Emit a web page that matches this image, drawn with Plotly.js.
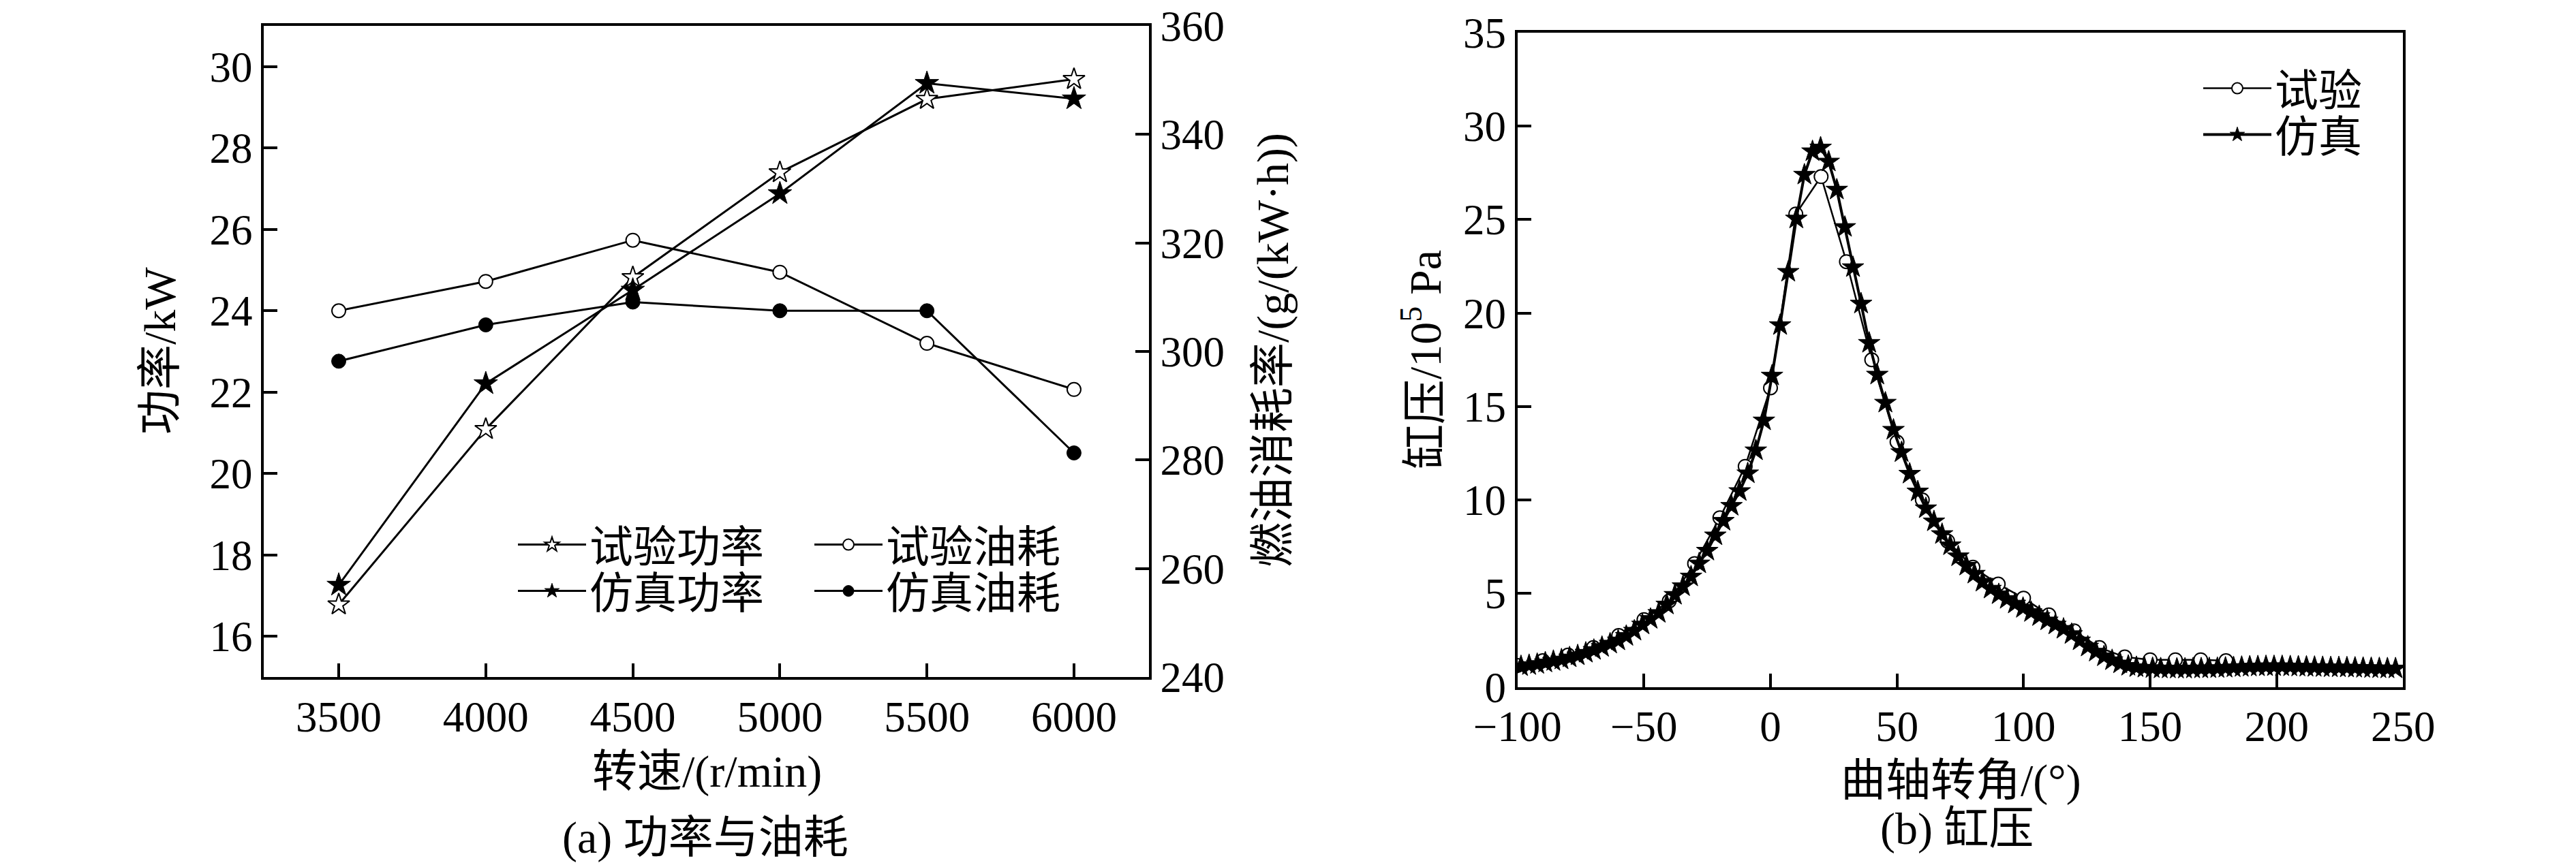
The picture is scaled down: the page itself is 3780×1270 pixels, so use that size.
<!DOCTYPE html>
<html>
<head>
<meta charset="utf-8">
<script src="https://cdn.plot.ly/plotly-3.0.1.min.js"></script>
<style>html,body{margin:0;padding:0;background:#fff;}#chart{width:3780px;height:1270px;}</style>
</head>
<body>
<div id="chart"></div>
<script>
// ---- (a) power & fuel consumption ----
const speed = [3500, 4000, 4500, 5000, 5500, 6000];
const expPower = [16.78, 21.09, 24.82, 27.40, 29.20, 29.69];
const simPower = [17.26, 22.21, 24.51, 26.88, 29.59, 29.21];
const expFuel = [307.5, 312.9, 320.5, 314.6, 301.5, 293.0];
const simFuel = [298.2, 304.9, 309.1, 307.5, 307.5, 281.3];
const speedTicks = [3500, 4000, 4500, 5000, 5500, 6000];
const powerTicks = [16, 18, 20, 22, 24, 26, 28, 30];
const fuelTicks = [240, 260, 280, 300, 320, 340, 360];

// ---- (b) cylinder pressure ----
const expAngle = [-100, -90, -80, -70, -60, -50, -40, -30, -20, -10, 0, 10, 20, 30, 40, 50, 60, 70, 80, 90, 100, 110, 120, 130, 140, 150, 160, 170, 180];
const expPressure = [1.15, 1.40, 1.70, 2.10, 2.75, 3.60, 4.60, 6.60, 9.05, 11.8, 16.0, 25.3, 27.3, 22.75, 17.5, 13.1, 10.0, 7.8, 6.4, 5.5, 4.75, 3.85, 3.0, 2.1, 1.6, 1.45, 1.45, 1.45, 1.4];
const simAngle = [-98.6, -95.4, -92.2, -89.0, -85.8, -82.6, -79.4, -76.2, -73.0, -69.8,
  -66.6, -63.4, -60.2, -57.0, -53.8, -50.6, -47.4, -44.2, -41.0, -37.8,
  -34.6, -31.4, -28.2, -25.0, -21.8, -18.6, -15.4, -12.2, -9.0, -5.8,
  -2.6, 0.6, 3.8, 7.0, 10.2, 13.4, 16.6, 19.8, 23.0, 26.2,
  29.4, 32.6, 35.8, 39.0, 42.2, 45.4, 48.6, 51.8, 55.0, 58.2,
  61.4, 64.6, 67.8, 71.0, 74.2, 77.4, 80.6, 83.8, 87.0, 90.2,
  93.4, 96.6, 99.8, 103.0, 106.2, 109.4, 112.6, 115.8, 119.0, 122.2,
  125.4, 128.6, 131.8, 135.0, 138.2, 141.4, 144.6, 147.8, 151.0, 154.2,
  157.4, 160.6, 163.8, 167.0, 170.2, 173.4, 176.6, 179.8, 183.0, 186.2,
  189.4, 192.6, 195.8, 199.0, 202.2, 205.4, 208.6, 211.8, 215.0, 218.2,
  221.4, 224.6, 227.8, 231.0, 234.2, 237.4, 240.6, 243.8, 247.0];
const simPressure = [1.10, 1.16, 1.22, 1.30, 1.38, 1.46, 1.57, 1.68, 1.82, 1.97,
  2.13, 2.31, 2.48, 2.72, 3.00, 3.33, 3.63, 3.95, 4.40, 4.92,
  5.38, 5.90, 6.60, 7.28, 8.10, 8.88, 9.68, 10.47, 11.42, 12.65,
  14.25, 16.65, 19.35, 22.2, 25.05, 27.4, 28.65, 28.85, 28.1, 26.6,
  24.6, 22.45, 20.5, 18.4, 16.7, 15.2, 13.75, 12.55, 11.4, 10.45,
  9.55, 8.85, 8.17, 7.57, 6.98, 6.48, 6.05, 5.62, 5.25, 4.95,
  4.70, 4.45, 4.22, 4.00, 3.78, 3.55, 3.33, 3.10, 2.82, 2.48,
  2.15, 1.88, 1.63, 1.42, 1.25, 1.12, 1.05, 1.02, 1.00, 0.98,
  0.98, 0.97, 0.97, 0.98, 0.98, 0.99, 1.00, 1.02, 1.04, 1.06,
  1.08, 1.09, 1.10, 1.10, 1.10, 1.09, 1.08, 1.07, 1.06, 1.05,
  1.04, 1.04, 1.03, 1.02, 1.01, 1.00, 0.99, 0.98, 0.98];
const angleTicks = [-100, -50, 0, 50, 100, 150, 200, 250];
const pressureTicks = [0, 5, 10, 15, 20, 25, 30, 35];

const W = 3780, H = 1270;
const FONT = 'Liberation Serif, "Noto Sans CJK SC", serif';
const px = v => v / W;
const py = v => 1 - v / H;

const traces = [
  {x: speed, y: expPower, name: '试验功率', xaxis: 'x', yaxis: 'y', mode: 'lines+markers', legend: 'legend',
   line: {color: '#000', width: 3}, marker: {symbol: 'star', size: 24, color: '#fff', line: {color: '#000', width: 2}}},
  {x: speed, y: expFuel, name: '试验油耗', xaxis: 'x', yaxis: 'y2', mode: 'lines+markers', legend: 'legend3',
   line: {color: '#000', width: 3}, marker: {symbol: 'circle', size: 20, color: '#fff', line: {color: '#000', width: 2}}},
  {x: speed, y: simPower, name: '仿真功率', xaxis: 'x', yaxis: 'y', mode: 'lines+markers', legend: 'legend2',
   line: {color: '#000', width: 3}, marker: {symbol: 'star', size: 26, color: '#000', line: {color: '#000', width: 1}}},
  {x: speed, y: simFuel, name: '仿真油耗', xaxis: 'x', yaxis: 'y2', mode: 'lines+markers', legend: 'legend4',
   line: {color: '#000', width: 3}, marker: {symbol: 'circle', size: 21, color: '#000', line: {color: '#000', width: 1}}},
  {x: expAngle, y: expPressure, name: '试验', xaxis: 'x2', yaxis: 'y3', mode: 'lines+markers', legend: 'legend5',
   line: {color: '#000', width: 2.5}, marker: {symbol: 'circle', size: 20, color: '#fff', line: {color: '#000', width: 2}}},
  {x: simAngle, y: simPressure, name: '仿真', xaxis: 'x2', yaxis: 'y3', mode: 'lines+markers', legend: 'legend6',
   line: {color: '#000', width: 4}, marker: {symbol: 'star', size: 24, color: '#000', line: {color: '#000', width: 1}}}
];

const axisBase = {
  showline: true, linecolor: '#000', linewidth: 4, mirror: true,
  ticks: 'inside', ticklen: 20, tickwidth: 4, tickcolor: '#000',
  showgrid: false, zeroline: false,
  tickfont: {family: FONT, size: 63, color: '#000'}
};

function legendAt(x, y) {
  return {x: x, y: y, xanchor: 'left', yanchor: 'middle', bgcolor: 'rgba(0,0,0,0)',
    font: {family: FONT, size: 64, color: '#000'}, itemwidth: 100, tracegroupgap: 0};
}

const annFont = {family: FONT, size: 66, color: '#000'};
const annotations = [
  {text: '转速/(r/min)', x: px(1037), y: py(1133), xref: 'paper', yref: 'paper', showarrow: false, font: annFont, xanchor: 'center', yanchor: 'middle'},
  {text: '(a) 功率与油耗', x: px(1035), y: py(1230), xref: 'paper', yref: 'paper', showarrow: false, font: annFont, xanchor: 'center', yanchor: 'middle'},
  {text: '功率/kW', x: px(235), y: py(515), xref: 'paper', yref: 'paper', showarrow: false, font: annFont, textangle: -90, xanchor: 'center', yanchor: 'middle'},
  {text: '燃油消耗率/(g/(kW·h))', x: px(1868), y: py(514), xref: 'paper', yref: 'paper', showarrow: false, font: annFont, textangle: -90, xanchor: 'center', yanchor: 'middle'},
  {text: '缸压/10<sup>5</sup> Pa', x: px(2086), y: py(528), xref: 'paper', yref: 'paper', showarrow: false, font: annFont, textangle: -90, xanchor: 'center', yanchor: 'middle'},
  {text: '曲轴转角/(°)', x: px(2877), y: py(1146), xref: 'paper', yref: 'paper', showarrow: false, font: annFont, xanchor: 'center', yanchor: 'middle'},
  {text: '(b) 缸压', x: px(2871), y: py(1217), xref: 'paper', yref: 'paper', showarrow: false, font: annFont, xanchor: 'center', yanchor: 'middle'}
];

const layout = {
  width: W, height: H,
  margin: {l: 0, r: 0, t: 0, b: 0},
  paper_bgcolor: '#fff', plot_bgcolor: '#fff',
  font: {family: FONT, size: 63, color: '#000'},
  showlegend: true,
  xaxis: Object.assign({}, axisBase, {domain: [px(387), px(1686)], range: [3245, 6255], tickvals: speedTicks, anchor: 'y', mirror: true}),
  yaxis: Object.assign({}, axisBase, {domain: [py(994), py(38)], range: [15, 31], tickvals: powerTicks, anchor: 'x'}),
  yaxis2: Object.assign({}, axisBase, {overlaying: 'y', side: 'right', range: [240, 360], tickvals: fuelTicks, anchor: 'x'}),
  xaxis2: Object.assign({}, axisBase, {domain: [px(2226.7), px(3526.3)], range: [-100, 250], tickvals: angleTicks, anchor: 'y3'}),
  yaxis3: Object.assign({}, axisBase, {domain: [py(1008.5), py(48)], range: [0, 35], tickvals: pressureTicks, anchor: 'x2'}),
  legend: legendAt(px(755), py(800)),
  legend2: legendAt(px(755), py(868)),
  legend3: legendAt(px(1190), py(800)),
  legend4: legendAt(px(1190), py(868)),
  legend5: legendAt(px(3228), py(130)),
  legend6: legendAt(px(3228), py(198)),
  annotations: annotations
};

Plotly.newPlot('chart', traces, layout, {displayModeBar: false, staticPlot: true});
</script>
</body>
</html>
